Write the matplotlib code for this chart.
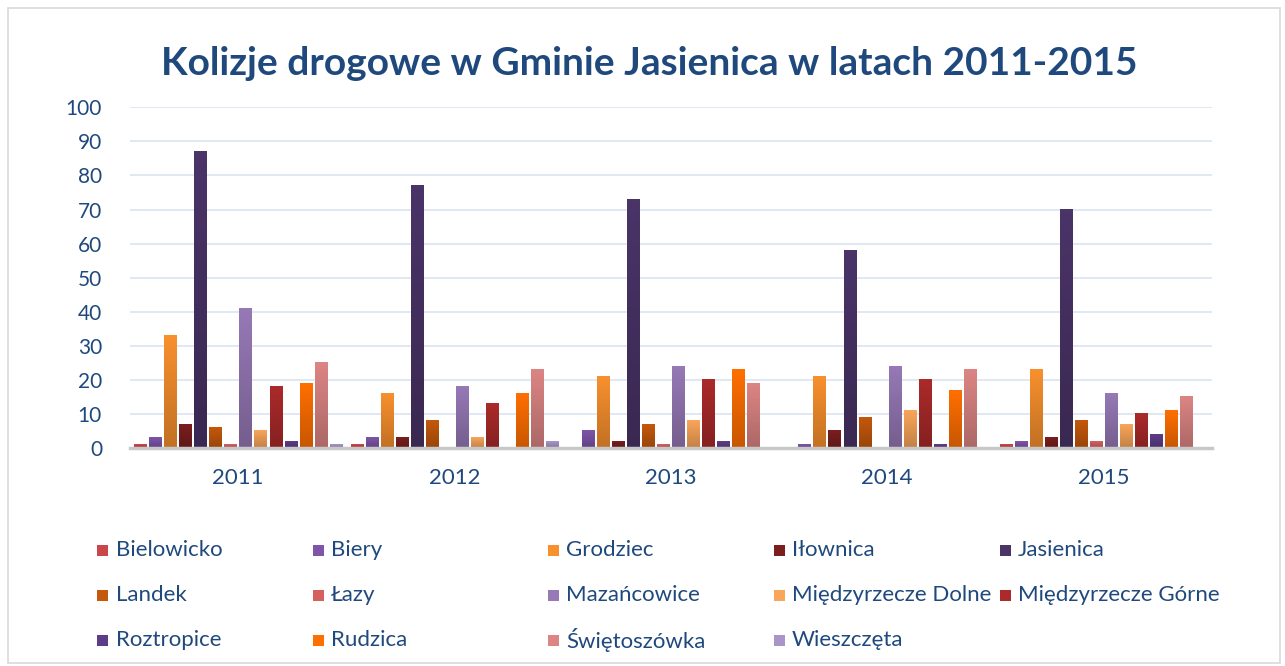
import matplotlib
matplotlib.use('Agg')
from matplotlib import pyplot as plt
from matplotlib.colors import LinearSegmentedColormap, to_rgb
from matplotlib.patches import Rectangle
import numpy as np

years = ['2011', '2012', '2013', '2014', '2015']

villages = ['Bielowicko', 'Biery', 'Grodziec', 'Iłownica', 'Jasienica',
            'Landek', 'Łazy', 'Mazańcowice', 'Międzyrzecze Dolne', 'Międzyrzecze Górne',
            'Roztropice', 'Rudzica', 'Świętoszówka', 'Wieszczęta']

# values per village, one per year 2011..2015
bielowicko = [1, 1, 0, 0, 1]
biery = [3, 3, 5, 1, 2]
grodziec = [33, 16, 21, 21, 23]
ilownica = [7, 3, 2, 5, 3]
jasienica = [87, 77, 73, 58, 70]
landek = [6, 8, 7, 9, 8]
lazy = [1, 0, 1, 0, 2]
mazancowice = [41, 18, 24, 24, 16]
mdolne = [5, 3, 8, 11, 7]
mgorne = [18, 13, 20, 20, 10]
roztropice = [2, 0, 2, 1, 4]
rudzica = [19, 16, 23, 17, 11]
swietoszowka = [25, 23, 19, 23, 15]
wieszczeta = [1, 2, 0, 0, 0]

series = [bielowicko, biery, grodziec, ilownica, jasienica, landek, lazy,
          mazancowice, mdolne, mgorne, roztropice, rudzica, swietoszowka, wieszczeta]

colors = ['#C9474B', '#7E55A8', '#F8902E', '#7A1E1E', '#4A3468',
          '#C4580C', '#D4605F', '#9679B6', '#F9A55A', '#AB2A2A',
          '#5E3D88', '#FF6F00', '#DC8584', '#A995C8']

navy = '#1F497D'
W, H = 1285, 666

fig = plt.figure(figsize=(12.85, 6.66), dpi=100)
fig.patches.append(Rectangle((0.006, 0.004), 0.99, 0.984, transform=fig.transFigure,
                             fill=False, edgecolor='#D9D9D9', linewidth=1.2))
ax = fig.add_axes([0.101, 0.327, 0.842, 0.512])

x = np.arange(len(years))
stride = 0.0695
width = 0.056
n = len(series)

for j, (vals, name, col) in enumerate(zip(series, villages, colors)):
    pos = x + (j - (n - 1) / 2) * stride
    bars = ax.bar(pos, vals, width, color='none', zorder=2)
    top = np.array(to_rgb(col))
    bottom = top * 0.78
    cmap = LinearSegmentedColormap.from_list('g', [bottom, top])
    for b in bars:
        h = b.get_height()
        if h <= 0:
            continue
        grad = np.linspace(0, 1, 64).reshape(-1, 1)
        ax.imshow(grad, extent=[b.get_x(), b.get_x() + b.get_width(), 0, h],
                  origin='lower', aspect='auto', cmap=cmap, zorder=2)

ax.set_xlim(-0.5, 4.5)
ax.set_ylim(0, 100)
ax.set_yticks(range(0, 101, 10))
ax.set_xticks(x)
ax.set_xticklabels(years)
ax.grid(axis='y', color='#DCE6F2', linewidth=1.3, zorder=0)
ax.set_axisbelow(True)
for s in ['top', 'right', 'left']:
    ax.spines[s].set_visible(False)
ax.spines['bottom'].set_color('#C8C8C8')
ax.spines['bottom'].set_linewidth(2.5)
ax.tick_params(axis='both', length=0, labelcolor=navy)
ax.tick_params(axis='x', pad=14, labelsize=16)
ax.tick_params(axis='y', pad=20, labelsize=15)

for lab in ax.get_xticklabels() + ax.get_yticklabels():
    lab.set_fontfamily('Lato')

fig.text(0.505, 0.905, 'Kolizje drogowe w Gminie Jasienica w latach 2011-2015',
         ha='center', va='center', fontsize=28, fontweight='bold', color=navy, family='Lato')

# legend laid out row by row, 5 columns
col_x = [103, 318, 553, 779, 1005]
row_y = [550, 595, 640]
sq = 11
for k, (name, col) in enumerate(zip(villages, colors)):
    r, c = divmod(k, 5)
    cx, cy = col_x[c], row_y[r]
    fig.patches.append(Rectangle(((cx - sq / 2) / W, 1 - (cy + sq / 2) / H), sq / W, sq / H,
                                 transform=fig.transFigure, facecolor=col, edgecolor='none'))
    fig.text((cx + 13) / W, 1 - cy / H, name, ha='left', va='center', fontsize=16,
             color=navy, family='Lato')

fig.savefig('out.png', dpi=100)
